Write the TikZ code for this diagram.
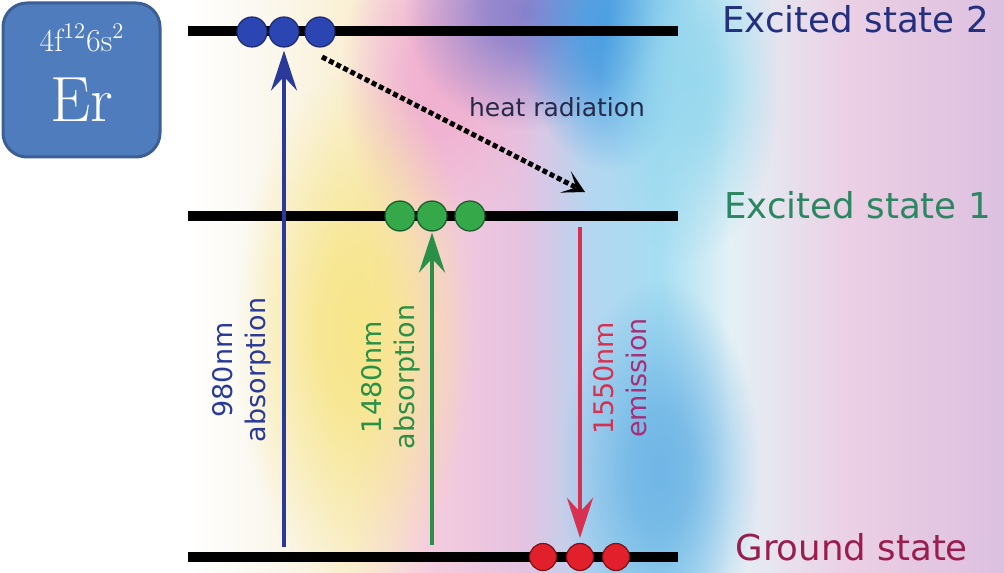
\documentclass[tikz,border=0pt]{standalone}
\usepackage{fontspec}
\newfontfamily\labelfont{DejaVu Sans}
\usetikzlibrary{arrows.meta,fadings}

\definecolor{tilefill}{HTML}{4E7CBC}
\definecolor{tileline}{HTML}{3B5F94}
\definecolor{bluelvl}{HTML}{2A3A9A}
\definecolor{bluedot}{HTML}{2B45B2}
\definecolor{greenlvl}{HTML}{2A9048}
\definecolor{greendot}{HTML}{35A84A}
\definecolor{redlvl}{HTML}{D83050}
\definecolor{reddot}{HTML}{E2202C}
\definecolor{emitlbl}{HTML}{A53078}
\definecolor{state2col}{HTML}{23307F}
\definecolor{state1col}{HTML}{2B8760}
\definecolor{groundcol}{HTML}{9A1D4E}
\definecolor{heatcol}{HTML}{262A48}
\definecolor{bgA}{HTML}{FBF8F0}
\definecolor{bgB}{HTML}{FAF0D4}
\definecolor{bgC}{HTML}{F5CCDE}
\definecolor{bgD}{HTML}{E6C2E0}
\definecolor{bgE}{HTML}{B4D6F0}
\definecolor{bgF}{HTML}{A6DEF2}
\definecolor{bgG}{HTML}{E4F1F6}
\definecolor{bgH}{HTML}{EBCFE4}
\definecolor{bgI}{HTML}{DCC0E0}
\definecolor{blobpurple}{HTML}{8A80CC}
\definecolor{blobblue}{HTML}{4A9FE2}
\definecolor{blobpink}{HTML}{F0B0D0}
\definecolor{blobyellow}{HTML}{F7E68A}
\definecolor{blobsky}{HTML}{70B6E6}
\definecolor{blobcyan}{HTML}{98D8EE}

\pgfdeclarehorizontalshading{spectrum}{100bp}{color(0bp)=(white); color(25bp)=(white);
  color(29.5bp)=(bgA); color(35bp)=(bgB); color(39.9bp)=(bgC); color(45.4bp)=(bgD);
  color(49.7bp)=(bgE); color(54bp)=(bgF); color(58.2bp)=(bgG); color(65.6bp)=(bgH);
  color(75bp)=(bgI); color(100bp)=(bgI)}
\pgfdeclareradialshading{blobshade}{\pgfpointorigin}{color(0bp)=(white); color(8bp)=(white!85!black);
  color(25bp)=(black); color(50bp)=(black)}
\pgfdeclarefading{softblob}{\pgfuseshading{blobshade}}

\begin{document}
\begin{tikzpicture}[x=0.5pt,y=-0.5pt,
    level/.style={line width=5pt},
    dot/.style={circle, inner sep=0pt, minimum size=15pt, line width=0.6pt},
    bdot/.style={dot, draw=bluelvl!70!black, fill=bluedot},
    gdot/.style={dot, draw=greenlvl!60!black, fill=greendot},
    rdot/.style={dot, minimum size=13.5pt, draw=reddot!55!black, fill=reddot},
    transition/.style={line width=2pt, -{Stealth[length=20pt,width=13pt,inset=7pt]}},
    rotlabel/.style={rotate=90, align=center, font=\labelfont\fontsize{13.5}{16.5}\selectfont},
    statelabel/.style={anchor=base west, inner sep=0pt, font=\labelfont\fontsize{17.8}{21}\selectfont}]
  \useasboundingbox (0,0) rectangle (1004,572);
  \shade[shading=spectrum] (187,0) rectangle (1004,572);
  \fill[blobpink, path fading=softblob] (440,80) ellipse [x radius=50pt, y radius=80pt];
  \fill[blobpurple, path fading=softblob] (525,10) ellipse [x radius=60pt, y radius=60pt];
  \fill[blobblue, path fading=softblob] (610,30) ellipse [x radius=45pt, y radius=70pt];
  \fill[blobcyan, path fading=softblob] (690,80) ellipse [x radius=45pt, y radius=90pt];
  \fill[blobyellow, path fading=softblob] (355,330) ellipse [x radius=60pt, y radius=130pt];
  \fill[blobsky, path fading=softblob] (660,470) ellipse [x radius=50pt, y radius=95pt];

  \node[draw=tileline, line width=1.5pt, fill=tilefill, rounded corners=12pt,
    minimum width=78.5pt, minimum height=77pt] (ertile) at (81.5,80) {};
  \node[text=white, font=\fontsize{16}{16}\selectfont] (config) at (82,38) {4f\textsuperscript{12}6s\textsuperscript{2}};
  \node[text=white, font=\fontsize{32}{32}\selectfont] (symbol) at (81.5,100) {Er};

  \draw[level] (188,31.5) -- (678,31.5);
  \draw[level] (188,216) -- (678,216);
  \draw[level] (188,557) -- (678,557);

  \node[bdot] (b1) at (252,32) {};
  \node[bdot] (b2) at (284,32) {};
  \node[bdot] (b3) at (320,32) {};
  \node[gdot] (g1) at (400,216) {};
  \node[gdot] (g2) at (432,216) {};
  \node[gdot] (g3) at (470,216) {};
  \node[rdot] (r1) at (543,557) {};
  \node[rdot] (r2) at (580,557) {};
  \node[rdot] (r3) at (616,557) {};

  \coordinate (pump980) at (284,547);
  \coordinate (pump1480) at (432,545);
  \coordinate (emit1550) at (580,227);
  \coordinate (heatstart) at (322,57);
  \coordinate (heatend) at (585,192);

  \draw[transition, bluelvl, shorten >=1.5pt] (pump980) -- (b2);
  \draw[transition, greenlvl, shorten >=0.5pt] (pump1480) -- (g2);
  \draw[transition, redlvl, shorten >=2.5pt] (emit1550) -- (r2);
  \draw[line width=2.5pt, dash pattern=on 2.5pt off 1.5pt,
    -{Stealth[length=11pt,width=12pt,inset=6pt]}] (heatstart) -- (heatend);

  \node[anchor=base, font=\labelfont\fontsize{12.5}{14}\selectfont, text=heatcol] (heat) at (557,117) {heat radiation};
  \node[rotlabel, text=bluelvl] (lab980) at (242,370) {980nm\\absorption};
  \node[rotlabel, text=greenlvl] (lab1480) at (391,377) {1480nm\\absorption};
  \node[rotlabel] (lab1550) at (620,378) {\textcolor{redlvl}{1550nm}\\\textcolor{emitlbl}{emission}};

  \node[statelabel, text=state2col] (state2) at (722,33) {Excited state 2};
  \node[statelabel, text=state1col] (state1) at (724,218) {Excited state 1};
  \node[statelabel, text=groundcol] (ground) at (735,560) {Ground state};
\end{tikzpicture}
\end{document}
